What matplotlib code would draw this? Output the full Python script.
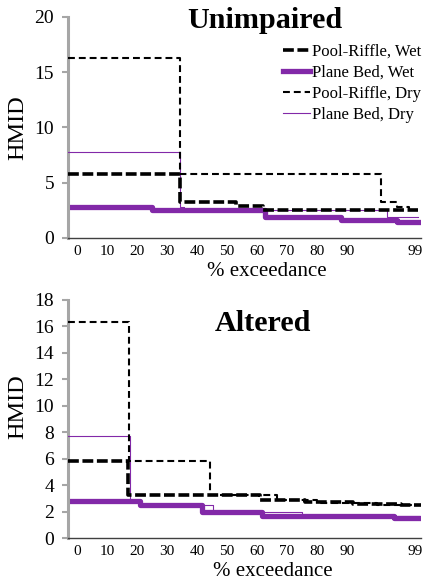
import matplotlib
matplotlib.use("Agg")
import matplotlib.pyplot as plt

plt.rcParams['font.family'] = ['Liberation Serif', 'DejaVu Serif']

# x is the position on the category axis (tick "0" at 0, "90" at 90, "99" at 112.7)
tick_pos = [0, 10, 20, 30, 40, 50, 60, 70, 80, 90, 112.7]
tick_lab = ['0', '10', '20', '30', '40', '50', '60', '70', '80', '90', '99']

# ---- Unimpaired ----
u_prw_x = [-3, 34.3, 53, 62, 113.7]
u_prw_y = [5.8, 3.3, 2.9, 2.55, 2.55]
u_pbw_x = [-3, 25, 62.7, 88, 106.7, 114]
u_pbw_y = [2.8, 2.5, 1.93, 1.65, 1.45, 1.45]
u_prd_x = [-3, 34.3, 101.2, 106.6, 110.5, 113.7]
u_prd_y = [16.3, 5.8, 3.3, 2.8, 2.5, 2.5]
u_pbd_x = [-3, 34.3, 35.5, 103.3, 113.7]
u_pbd_y = [7.8, 2.8, 2.5, 1.9, 1.9]

# ---- Altered ----
a_prw_x = [-3, 17, 61, 76, 92, 108, 114.7]
a_prw_y = [5.85, 3.3, 2.9, 2.75, 2.6, 2.5, 2.5]
a_pbw_x = [-3, 21, 41.5, 61.6, 105.5, 114.7]
a_pbw_y = [2.8, 2.5, 1.95, 1.7, 1.5, 1.5]
a_prd_x = [-3, 17.4, 44.3, 66.6, 80, 100, 114.5]
a_prd_y = [16.3, 5.85, 3.3, 2.9, 2.7, 2.55, 2.55]
a_pbd_x = [-3, 17.7, 21, 45.2, 75, 114]
a_pbd_y = [7.75, 2.8, 2.5, 1.95, 1.7, 1.7]

purple = '#8229a8'
grey = '#a6a6a6'

fig = plt.figure(figsize=(4.28, 5.80), dpi=100)
ax1 = fig.add_axes([0.159, 0.5897, 0.825, 0.381])
ax2 = fig.add_axes([0.159, 0.0719, 0.825, 0.411])


def draw(ax, prw, pbw, prd, pbd):
    ax.step(pbd[0], pbd[1], where='post', color=purple, lw=0.8, label='Plane Bed, Dry', zorder=3)
    ax.step(pbw[0], pbw[1], where='post', color=purple, lw=3.8, label='Plane Bed, Wet', zorder=2)
    ax.step(prd[0], prd[1], where='post', color='black', lw=1.5, dashes=(3.3, 1.9),
            label='Pool-Riffle, Dry', zorder=4)
    ax.step(prw[0], prw[1], where='post', color='black', lw=2.6, dashes=(3, 1),
            label='Pool-Riffle, Wet', zorder=5)
    ax.set_xlim(-3, 114.7)
    ax.set_xticks(tick_pos)
    ax.set_xticklabels(tick_lab, fontsize=11)
    ax.tick_params(axis='x', length=0, pad=5)
    ax.tick_params(axis='y', length=4, width=1.5, color=grey, labelsize=14, pad=6)
    for s in ['top', 'right']:
        ax.spines[s].set_visible(False)
    ax.spines['left'].set_color(grey)
    ax.spines['left'].set_linewidth(2.2)
    ax.spines['bottom'].set_color('#404040')
    ax.spines['bottom'].set_linewidth(1.0)
    ax.set_xlabel('% exceedance', fontsize=15)
    ax.set_ylabel('HMID', fontsize=17.5)


draw(ax1, (u_prw_x, u_prw_y), (u_pbw_x, u_pbw_y), (u_prd_x, u_prd_y), (u_pbd_x, u_pbd_y))
draw(ax2, (a_prw_x, a_prw_y), (a_pbw_x, a_pbw_y), (a_prd_x, a_prd_y), (a_pbd_x, a_pbd_y))

ax1.set_ylim(0, 20)
ax1.set_yticks([0, 5, 10, 15, 20])
ax2.set_ylim(0, 18)
ax2.set_yticks(range(0, 19, 2))

ax1.text(0.558, 0.985, 'Unimpaired', transform=ax1.transAxes, ha='center', va='center',
         fontsize=21.7, fontweight='bold')
ax2.text(0.552, 0.903, 'Altered', transform=ax2.transAxes, ha='center', va='center',
         fontsize=21.7, fontweight='bold')

ax1.xaxis.set_label_coords(0.564, -0.11)
ax2.xaxis.set_label_coords(0.58, -0.10)
ax1.yaxis.set_label_coords(-0.113, 0.5)
ax2.yaxis.set_label_coords(-0.113, 0.551)

h, l = ax1.get_legend_handles_labels()
order = [3, 1, 2, 0]
ax1.legend([h[i] for i in order], [l[i] for i in order], loc='upper left',
           bbox_to_anchor=(0.61, 0.878), frameon=False, fontsize=12,
           handlelength=1.6, handletextpad=0.1, labelspacing=0.3, borderpad=0,
           borderaxespad=0)

fig.savefig('out.png', dpi=100)
